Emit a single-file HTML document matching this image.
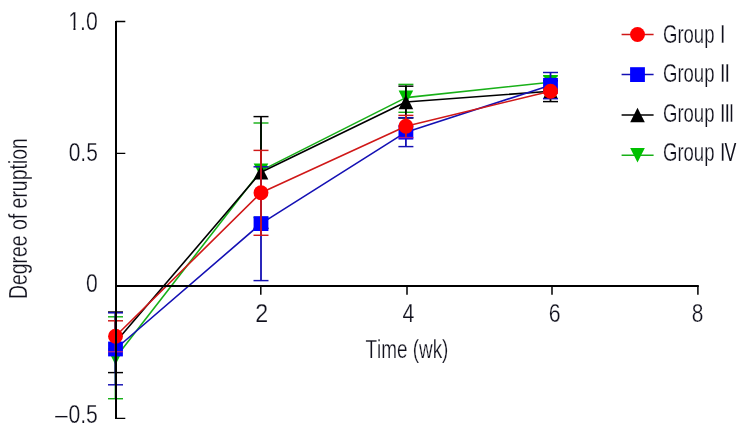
<!DOCTYPE html>
<html><head><meta charset="utf-8"><title>Degree of eruption</title>
<style>html,body{margin:0;padding:0;background:#fff;}svg{display:block;}text{font-kerning:none;}</style>
</head><body>
<svg width="747" height="427" viewBox="0 0 747 427">
<rect width="747" height="427" fill="#fff"/>
<polyline points="115.50,357.75 261.00,170.60 405.90,97.60 550.50,82.20" fill="none" stroke="#18b018" stroke-width="1.6" stroke-linejoin="round"/>
<path d="M115.50 316.80V398.70" stroke="#18b018" stroke-width="1.8" fill="none"/>
<path d="M108.00 316.80h15.0" stroke="#18b018" stroke-width="1.45" fill="none"/>
<path d="M108.00 398.70h15.0" stroke="#18b018" stroke-width="1.45" fill="none"/>
<path d="M261.00 123.00V217.50" stroke="#18b018" stroke-width="1.8" fill="none"/>
<path d="M253.50 123.00h15.0" stroke="#18b018" stroke-width="1.45" fill="none"/>
<path d="M253.50 217.50h15.0" stroke="#18b018" stroke-width="1.45" fill="none"/>
<path d="M405.90 84.40V112.30" stroke="#18b018" stroke-width="1.8" fill="none"/>
<path d="M398.40 84.40h15.0" stroke="#18b018" stroke-width="1.45" fill="none"/>
<path d="M398.40 112.30h15.0" stroke="#18b018" stroke-width="1.45" fill="none"/>
<path d="M550.50 75.90V89.80" stroke="#18b018" stroke-width="1.8" fill="none"/>
<path d="M543.00 75.90h15.0" stroke="#18b018" stroke-width="1.45" fill="none"/>
<path d="M543.00 89.80h15.0" stroke="#18b018" stroke-width="1.45" fill="none"/>
<polygon points="108.20,350.55 122.80,350.55 115.50,364.95" fill="#00c000"/>
<polygon points="253.70,163.40 268.30,163.40 261.00,177.80" fill="#00c000"/>
<polygon points="398.60,90.40 413.20,90.40 405.90,104.80" fill="#00c000"/>
<polygon points="543.20,75.00 557.80,75.00 550.50,89.40" fill="#00c000"/>
<polyline points="115.50,342.30 261.00,172.20 405.90,102.00 550.50,91.20" fill="none" stroke="#000000" stroke-width="1.6" stroke-linejoin="round"/>
<path d="M115.50 312.00V372.60" stroke="#000000" stroke-width="1.8" fill="none"/>
<path d="M108.00 312.00h15.0" stroke="#000000" stroke-width="1.45" fill="none"/>
<path d="M108.00 372.60h15.0" stroke="#000000" stroke-width="1.45" fill="none"/>
<path d="M261.00 116.60V228.40" stroke="#000000" stroke-width="1.8" fill="none"/>
<path d="M253.50 116.60h15.0" stroke="#000000" stroke-width="1.45" fill="none"/>
<path d="M253.50 228.40h15.0" stroke="#000000" stroke-width="1.45" fill="none"/>
<path d="M405.90 86.20V118.00" stroke="#000000" stroke-width="1.8" fill="none"/>
<path d="M398.40 86.20h15.0" stroke="#000000" stroke-width="1.45" fill="none"/>
<path d="M398.40 118.00h15.0" stroke="#000000" stroke-width="1.45" fill="none"/>
<path d="M550.50 80.80V101.60" stroke="#000000" stroke-width="1.8" fill="none"/>
<path d="M543.00 80.80h15.0" stroke="#000000" stroke-width="1.45" fill="none"/>
<path d="M543.00 101.60h15.0" stroke="#000000" stroke-width="1.45" fill="none"/>
<polygon points="115.50,335.10 122.80,349.50 108.20,349.50" fill="#000000"/>
<polygon points="261.00,165.00 268.30,179.40 253.70,179.40" fill="#000000"/>
<polygon points="405.90,94.80 413.20,109.20 398.60,109.20" fill="#000000"/>
<polygon points="550.50,84.00 557.80,98.40 543.20,98.40" fill="#000000"/>
<polyline points="115.50,349.00 261.00,223.60 405.90,132.15 550.50,85.30" fill="none" stroke="#1410b4" stroke-width="1.6" stroke-linejoin="round"/>
<path d="M115.50 312.80V384.80" stroke="#1410b4" stroke-width="1.8" fill="none"/>
<path d="M108.00 312.80h15.0" stroke="#1410b4" stroke-width="1.45" fill="none"/>
<path d="M108.00 384.80h15.0" stroke="#1410b4" stroke-width="1.45" fill="none"/>
<path d="M261.00 166.80V280.60" stroke="#1410b4" stroke-width="1.8" fill="none"/>
<path d="M253.50 166.80h15.0" stroke="#1410b4" stroke-width="1.45" fill="none"/>
<path d="M253.50 280.60h15.0" stroke="#1410b4" stroke-width="1.45" fill="none"/>
<path d="M405.90 117.70V146.60" stroke="#1410b4" stroke-width="1.8" fill="none"/>
<path d="M398.40 117.70h15.0" stroke="#1410b4" stroke-width="1.45" fill="none"/>
<path d="M398.40 146.60h15.0" stroke="#1410b4" stroke-width="1.45" fill="none"/>
<path d="M550.50 72.50V98.70" stroke="#1410b4" stroke-width="1.8" fill="none"/>
<path d="M543.00 72.50h15.0" stroke="#1410b4" stroke-width="1.45" fill="none"/>
<path d="M543.00 98.70h15.0" stroke="#1410b4" stroke-width="1.45" fill="none"/>
<rect x="108.10" y="341.60" width="14.8" height="14.8" fill="#0000ff"/>
<rect x="253.60" y="216.20" width="14.8" height="14.8" fill="#0000ff"/>
<rect x="398.50" y="124.75" width="14.8" height="14.8" fill="#0000ff"/>
<rect x="543.10" y="77.90" width="14.8" height="14.8" fill="#0000ff"/>
<polyline points="115.50,336.30 261.00,192.80 405.90,126.20 550.50,91.20" fill="none" stroke="#d01818" stroke-width="1.6" stroke-linejoin="round"/>
<path d="M115.50 320.80V351.70" stroke="#d01818" stroke-width="1.8" fill="none"/>
<path d="M108.00 320.80h15.0" stroke="#d01818" stroke-width="1.45" fill="none"/>
<path d="M108.00 351.70h15.0" stroke="#9a1e9e" stroke-width="1.45" fill="none"/>
<path d="M261.00 150.40V235.30" stroke="#d01818" stroke-width="1.8" fill="none"/>
<path d="M253.50 150.40h15.0" stroke="#d01818" stroke-width="1.45" fill="none"/>
<path d="M253.50 235.30h15.0" stroke="#d01818" stroke-width="1.45" fill="none"/>
<path d="M405.90 115.40V137.60" stroke="#d01818" stroke-width="1.8" fill="none"/>
<path d="M398.40 115.40h15.0" stroke="#d01818" stroke-width="1.45" fill="none"/>
<path d="M398.40 137.60h15.0" stroke="#9a1e9e" stroke-width="1.45" fill="none"/>
<path d="M550.50 89.30V93.10" stroke="#d01818" stroke-width="1.8" fill="none"/>
<path d="M543.00 89.30h15.0" stroke="#d01818" stroke-width="1.45" fill="none"/>
<path d="M543.00 93.10h15.0" stroke="#d01818" stroke-width="1.45" fill="none"/>
<circle cx="115.50" cy="336.30" r="7.45" fill="#ff0000"/>
<circle cx="261.00" cy="192.80" r="7.45" fill="#ff0000"/>
<circle cx="405.90" cy="126.20" r="7.45" fill="#ff0000"/>
<circle cx="550.50" cy="91.20" r="7.45" fill="#ff0000"/>
<path d="M116 21V419" stroke="#000" stroke-width="2" fill="none"/>
<path d="M116 21.5H125.3M116 153.4H125.3M116 418.3H125.3" stroke="#000" stroke-width="1.3" fill="none"/>
<path d="M116 286H698.8" stroke="#000" stroke-width="2" fill="none"/>
<path d="M260.8 286V294.8M407 286V294.8M552 286V294.8M697.9 286V294.8" stroke="#000" stroke-width="1.5" fill="none"/>
<text x="68.18" y="29.80" font-size="25" textLength="29.55" lengthAdjust="spacingAndGlyphs" font-family="Liberation Sans, sans-serif" fill="#10101c" stroke="#fff" stroke-width="0.25" >1.0</text>
<rect x="68" y="27.33" width="5.42" height="4.47" fill="#fff"/>
<rect x="75.51" y="27.33" width="4.99" height="4.47" fill="#fff"/>
<text x="68.68" y="160.60" font-size="25" textLength="29.10" lengthAdjust="spacingAndGlyphs" font-family="Liberation Sans, sans-serif" fill="#10101c" stroke="#fff" stroke-width="0.25" >0.5</text>
<text x="86.07" y="291.50" font-size="25" textLength="11.75" lengthAdjust="spacingAndGlyphs" font-family="Liberation Sans, sans-serif" fill="#10101c" stroke="#fff" stroke-width="0.25" >0</text>
<text><tspan x="53.71" y="423.77" font-size="22" textLength="15.27" lengthAdjust="spacingAndGlyphs" font-family="Liberation Sans, sans-serif" fill="#10101c" stroke="#fff" stroke-width="0.25" >−</tspan><tspan x="68.47" y="422.60" font-size="25" textLength="29.42" lengthAdjust="spacingAndGlyphs" font-family="Liberation Sans, sans-serif" fill="#10101c" stroke="#fff" stroke-width="0.25" >0.5</tspan></text>
<text x="255.33" y="322.00" font-size="25" textLength="12.94" lengthAdjust="spacingAndGlyphs" font-family="Liberation Sans, sans-serif" fill="#10101c" stroke="#fff" stroke-width="0.25" >2</text>
<text x="402.51" y="321.90" font-size="25" textLength="11.92" lengthAdjust="spacingAndGlyphs" font-family="Liberation Sans, sans-serif" fill="#10101c" stroke="#fff" stroke-width="0.25" >4</text>
<text x="548.72" y="321.70" font-size="25" textLength="11.81" lengthAdjust="spacingAndGlyphs" font-family="Liberation Sans, sans-serif" fill="#10101c" stroke="#fff" stroke-width="0.25" >6</text>
<text x="691.79" y="321.70" font-size="25" textLength="11.62" lengthAdjust="spacingAndGlyphs" font-family="Liberation Sans, sans-serif" fill="#10101c" stroke="#fff" stroke-width="0.25" >8</text>
<text x="365.48" y="358.00" font-size="25" textLength="82.90" lengthAdjust="spacingAndGlyphs" font-family="Liberation Sans, sans-serif" fill="#10101c" stroke="#fff" stroke-width="0.25" >Time (wk)</text>
<g transform="translate(0,0) rotate(-90)"><text x="-299.09" y="27.00" font-size="25" textLength="160.85" lengthAdjust="spacingAndGlyphs" font-family="Liberation Sans, sans-serif" fill="#10101c" stroke="#fff" stroke-width="0.25" >Degree of eruption</text></g>
<path d="M621.6 34.5H653.6" stroke="#d01818" stroke-width="1.5"/>
<circle cx="637.50" cy="34.50" r="7.45" fill="#ff0000"/>
<text><tspan x="662.97" y="42.80" font-size="25" textLength="51.51" lengthAdjust="spacingAndGlyphs" font-family="Liberation Sans, sans-serif" fill="#10101c" stroke="#fff" stroke-width="0.25" >Group</tspan> <tspan x="719.29" y="42.8" font-size="25" letter-spacing="-2.60" font-family="Liberation Sans, sans-serif" fill="#10101c" stroke="#fff" stroke-width="0.55">I</tspan></text>
<path d="M621.6 74.6H653.6" stroke="#1410b4" stroke-width="1.5"/>
<rect x="630.10" y="67.20" width="14.8" height="14.8" fill="#0000ff"/>
<text><tspan x="662.97" y="82.20" font-size="25" textLength="51.51" lengthAdjust="spacingAndGlyphs" font-family="Liberation Sans, sans-serif" fill="#10101c" stroke="#fff" stroke-width="0.25" >Group</tspan> <tspan x="719.29" y="82.2" font-size="25" letter-spacing="-2.60" font-family="Liberation Sans, sans-serif" fill="#10101c" stroke="#fff" stroke-width="0.55">II</tspan></text>
<path d="M621.6 115.0H653.6" stroke="#000000" stroke-width="1.5"/>
<polygon points="637.50,107.80 644.80,122.20 630.20,122.20" fill="#000000"/>
<text><tspan x="662.97" y="121.50" font-size="25" textLength="51.51" lengthAdjust="spacingAndGlyphs" font-family="Liberation Sans, sans-serif" fill="#10101c" stroke="#fff" stroke-width="0.25" >Group</tspan> <tspan x="719.29" y="121.5" font-size="25" letter-spacing="-2.60" font-family="Liberation Sans, sans-serif" fill="#10101c" stroke="#fff" stroke-width="0.55">III</tspan></text>
<path d="M621.6 155.3H653.6" stroke="#18b018" stroke-width="1.5"/>
<polygon points="630.20,148.10 644.80,148.10 637.50,162.50" fill="#00c000"/>
<text><tspan x="662.97" y="160.90" font-size="25" textLength="51.51" lengthAdjust="spacingAndGlyphs" font-family="Liberation Sans, sans-serif" fill="#10101c" stroke="#fff" stroke-width="0.25" >Group</tspan> <tspan x="719.29" y="160.9" font-size="25" font-family="Liberation Sans, sans-serif" fill="#10101c" stroke="#fff" stroke-width="0.55">I</tspan><tspan x="724.52" y="160.90" font-size="25" textLength="11.86" lengthAdjust="spacingAndGlyphs" font-family="Liberation Sans, sans-serif" fill="#10101c" >V</tspan></text>
</svg>
</body></html>
